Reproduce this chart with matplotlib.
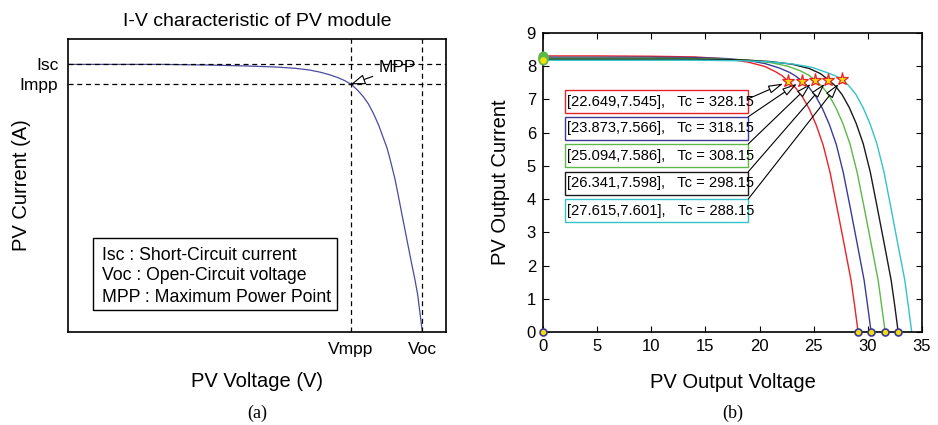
import matplotlib.pyplot as plt
from matplotlib.patches import Rectangle

plt.rcParams['font.family'] = ['Liberation Sans', 'DejaVu Sans']

# (a) generic I-V curve of one module
iv_v = [0, 10, 15, 19, 22, 24, 25.5, 26.7, 27.7, 28.5, 29.3, 29.95, 30.6, 31.25,
        31.8, 32.31, 32.85, 33.37, 33.75, 34.07, 34.6, 35.0, 35.31, 35.7, 36.01,
        36.4, 36.72, 37.0, 37.25, 37.5]
iv_i = [8.22, 8.22, 8.2, 8.17, 8.14, 8.1, 8.05, 7.98, 7.9, 7.82, 7.72, 7.61, 7.44,
        7.23, 7.0, 6.72, 6.37, 5.96, 5.66, 5.32, 4.7, 4.12, 3.65, 3.08, 2.62,
        2.05, 1.6, 1.15, 0.57, 0]
isc, impp = 8.22, 7.61
vmpp, voc = 29.95, 37.5
legend_lines = ['Isc : Short-Circuit current',
                'Voc : Open-Circuit voltage',
                'MPP : Maximum Power Point']

# (b) I-V curves at five cell temperatures
v_328 = [0, 5, 10, 14, 17, 19, 20.5, 21.5, 22.1, 22.649, 23.29, 23.94, 24.58,
         25.23, 25.87, 26.52, 27.16, 27.81, 28.45, 28.78, 29.1]
i_328 = [8.31, 8.31, 8.30, 8.28, 8.22, 8.12, 7.99, 7.83, 7.71, 7.545, 7.36, 7.09,
         6.72, 6.23, 5.63, 4.79, 3.73, 2.64, 1.55, 0.79, 0]
v_318 = [0, 5, 10, 14, 17, 19, 20.5, 21.8, 22.8, 23.35, 23.873, 24.52, 25.16,
         25.80, 26.44, 27.09, 27.73, 28.37, 29.02, 29.66, 29.98, 30.3]
i_318 = [8.27, 8.27, 8.27, 8.26, 8.23, 8.17, 8.08, 7.95, 7.81, 7.70, 7.566, 7.38,
         7.11, 6.73, 6.25, 5.64, 4.80, 3.75, 2.65, 1.55, 0.79, 0]
v_308 = [0, 5, 10, 14, 17, 19, 21, 22.6, 23.7, 24.5, 25.094, 25.75, 26.40, 27.05,
         27.70, 28.35, 29.00, 29.65, 30.30, 30.95, 31.27, 31.6]
i_308 = [8.24, 8.24, 8.24, 8.23, 8.21, 8.18, 8.11, 8.0, 7.87, 7.74, 7.586, 7.40,
         7.13, 6.75, 6.27, 5.66, 4.82, 3.76, 2.66, 1.56, 0.80, 0]
v_298 = [0, 5, 10, 14, 17, 19, 21, 23, 24.6, 25.6, 26.341, 26.99, 27.63, 28.28,
         28.92, 29.57, 30.22, 30.86, 31.51, 32.15, 32.48, 32.8]
i_298 = [8.21, 8.21, 8.21, 8.21, 8.20, 8.18, 8.14, 8.06, 7.93, 7.78, 7.598, 7.41,
         7.14, 6.76, 6.28, 5.67, 4.82, 3.76, 2.66, 1.56, 0.80, 0]
v_288 = [0, 5, 10, 14, 17, 19, 21, 23, 24.8, 26.3, 27.0, 27.615, 28.26, 28.90,
         29.55, 30.19, 30.83, 31.48, 32.12, 32.76, 33.41, 33.73, 34.05]
i_288 = [8.18, 8.18, 8.18, 8.18, 8.17, 8.16, 8.13, 8.07, 7.97, 7.80, 7.71, 7.601,
         7.41, 7.15, 6.76, 6.28, 5.67, 4.83, 3.76, 2.66, 1.56, 0.80, 0]

tc = [328.15, 318.15, 308.15, 298.15, 288.15]
mpp_v = [22.649, 23.873, 25.094, 26.341, 27.615]
mpp_i = [7.545, 7.566, 7.586, 7.598, 7.601]
voc_marks = [0, 29.1, 30.3, 31.6, 32.8]
colors = ['#e8232a', '#3d3a96', '#5cb848', '#1a1a1a', '#34c3c8']

fig = plt.figure(figsize=(9.38, 4.25), dpi=100)
W, H = 938, 425
dash = (0, (4, 3))

# ---------------- (a) ----------------
ax1 = fig.add_axes([68 / W, 1 - 332 / H, 378 / W, 293 / H])
ax1.plot(iv_v, iv_i, color='#4b4aa0', lw=0.9)
for yv in (isc, impp):
    ax1.axhline(yv, color='k', ls=dash, lw=0.9)
for xv in (vmpp, voc):
    ax1.axvline(xv, color='k', ls=dash, lw=0.9)
ax1.set_xlim(0, 40)
ax1.set_ylim(0, 9)
ax1.set_xticks([vmpp, voc], ['Vmpp', 'Voc'])
ax1.set_yticks([impp, isc], ['Impp', 'Isc'])
ax1.tick_params(length=0, labelsize=12.5, pad=7)
for s in ax1.spines.values():
    s.set_linewidth(1.2)
ax1.set_title('I-V characteristic of PV module', fontsize=14, pad=9)
ax1.set_xlabel('PV Voltage (V)', fontsize=14.5, labelpad=11)
ax1.set_ylabel('PV Current (A)', fontsize=14.5)
ax1.yaxis.set_label_coords(-0.098, 0.5)
ax1.annotate('MPP', xy=(vmpp, impp), xytext=(34.8, 8.12), fontsize=12.5,
             ha='center', va='center',
             arrowprops=dict(arrowstyle='-|>,head_length=0.7,head_width=0.25',
                             fc='white', ec='k', lw=0.8, shrinkA=2, shrinkB=0))

# legend box drawn by hand
ax1.add_patch(Rectangle((0.067, 0.075), 0.645, 0.245, transform=ax1.transAxes,
                        fc='white', ec='k', lw=1.0, zorder=3))
for line, yf in zip(legend_lines, (0.246, 0.176, 0.104)):
    ax1.text(0.089, yf, line, transform=ax1.transAxes, fontsize=12.7,
             va='baseline', ha='left', zorder=4)

# ---------------- (b) ----------------
ax2 = fig.add_axes([543 / W, 1 - 332 / H, 379 / W, 299 / H])
curves_v = [v_328, v_318, v_308, v_298, v_288]
curves_i = [i_328, i_318, i_308, i_298, i_288]
for v, i, c in zip(curves_v, curves_i, colors):
    ax2.plot(v, i, color=c, lw=1.0)
isc_marks = [i[0] for i in curves_i]
ax2.plot([0] * len(isc_marks), isc_marks, 'o', ms=6, mfc='#f2e00a', mec='#5cb848',
         mew=1.2, clip_on=False, zorder=5)
ax2.plot(voc_marks, [0] * len(voc_marks), 'o', ms=5, mfc='#f2e00a', mec='#3d3a96',
         mew=1.2, clip_on=False, zorder=5)
ax2.plot(mpp_v, mpp_i, '*', ms=9.5, mfc='#f2e00a', mec='#e8232a', mew=0.9, zorder=5)

box_x0, box_x1 = 0.058, 0.5417
box_y = [0.7314, 0.642, 0.551, 0.458, 0.367]
box_h = 0.078
arrow_y = [0.78, 0.72, 0.629, 0.536, 0.445]
for k in range(len(tc)):
    ax2.add_patch(Rectangle((box_x0, box_y[k]), box_x1 - box_x0, box_h,
                            transform=ax2.transAxes, fc='white', ec=colors[k],
                            lw=1.0, zorder=3))
    ax2.text(box_x0 + 0.005, box_y[k] + box_h / 2,
             f'[{mpp_v[k]:.3f},{mpp_i[k]:.3f}],   Tc = {tc[k]:.2f}',
             transform=ax2.transAxes, fontsize=10.6, va='center', ha='left', zorder=4)
    ax2.annotate('', xy=(mpp_v[k], mpp_i[k]), xytext=(box_x1, arrow_y[k]),
                 textcoords='axes fraction',
                 arrowprops=dict(arrowstyle='-|>,head_length=0.9,head_width=0.25',
                                 fc='white', ec='k', lw=0.8, shrinkA=0, shrinkB=4),
                 zorder=4)

ax2.set_xlim(0, 35)
ax2.set_ylim(0, 9)
ax2.set_xticks(range(0, 36, 5))
ax2.set_yticks(range(0, 10))
ax2.tick_params(direction='in', top=True, right=True, length=4, labelsize=12, pad=5)
for s in ax2.spines.values():
    s.set_linewidth(1.2)
ax2.set_xlabel('PV Output Voltage', fontsize=14.5, labelpad=14)
ax2.set_ylabel('PV Output Current', fontsize=14.5)
ax2.yaxis.set_label_coords(-0.087, 0.5)

fig.text(257 / W, 1 - 413 / H, '(a)', ha='center', va='center', fontsize=13,
         family='Liberation Serif')
fig.text(733 / W, 1 - 413 / H, '(b)', ha='center', va='center', fontsize=13,
         family='Liberation Serif')

fig.savefig('out.png', dpi=100)
